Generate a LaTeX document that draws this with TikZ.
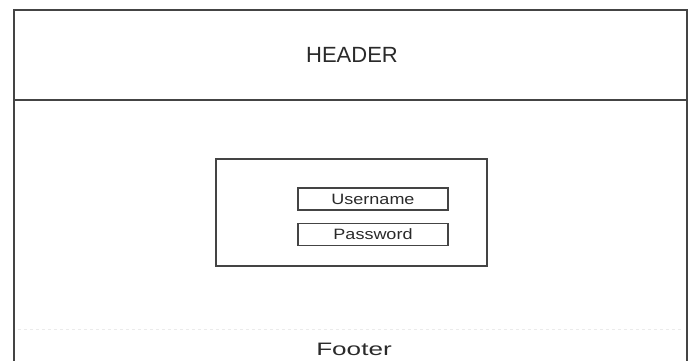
\documentclass[tikz,border=0pt]{standalone}
\usepackage{fontspec}
\setmainfont{Liberation Sans}
\definecolor{frame}{HTML}{444444}
\definecolor{txt}{HTML}{2A2A2A}
\begin{document}
\begin{tikzpicture}[x=1pt,y=1pt,
  outer/.style={draw=frame,line width=2.6pt},
  box/.style={draw=frame,line width=1.6pt},
  field/.style={draw=frame,line width=1.6pt,minimum width=150pt,minimum height=22pt,inner sep=0pt,text=txt},
  lbl/.style={text=txt,inner sep=0pt}]
\useasboundingbox (0,0) rectangle (693,361);
\fill[white] (0,0) rectangle (693,361);
\draw[outer] (14,-2) -- (14,351) -- (687,351) -- (687,-2);
\draw[outer] (14,261) -- (687,261);
\node[lbl,font=\fontsize{22}{24}\selectfont] (header) at (352,306) {HEADER};
\draw[box] (216,95) rectangle (487,202);
\node[field,font=\fontsize{15}{17}\selectfont] (user) at (373,162) {\scalebox{1.2}[1]{Username}};
\node[field,font=\fontsize{15}{17}\selectfont] (pass) at (373,126.5) {\scalebox{1.2}[1]{Password}};
\draw[black!8,line width=1pt,dash pattern=on 3pt off 3pt] (18,31) -- (683,31);
\node[lbl,font=\fontsize{18}{20}\selectfont] (footer) at (354,12) {\scalebox{1.45}[1]{Footer}};
\end{tikzpicture}
\end{document}
